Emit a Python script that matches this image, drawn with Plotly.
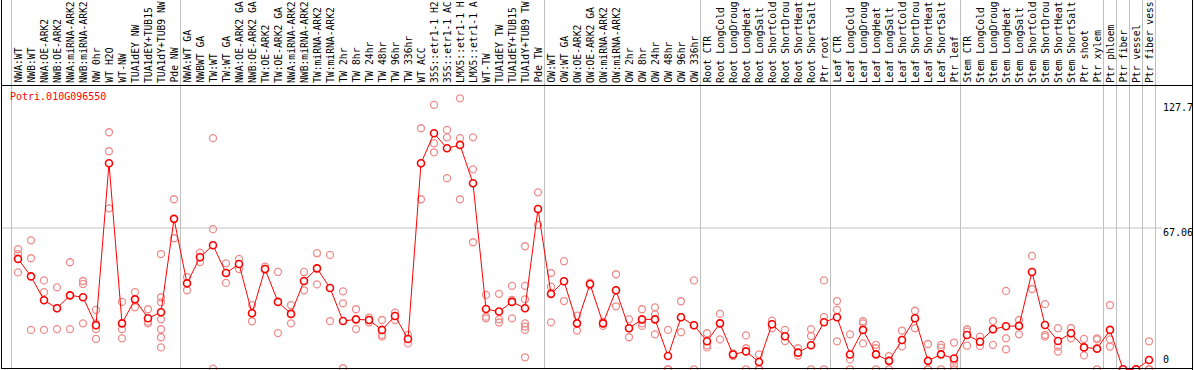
import plotly.graph_objects as go

W, H = 1194, 370

labels = ["NWA:WT", "NWB:WT", "NWA:OE-ARK2", "NWB:OE-ARK2", "NWA:miRNA-ARK2", "NWB:miRNA-ARK2",
          "NW 0hr", "WT H2O", "WT-NW", "TUA1dEY NW", "TUA1dEY+TUB15", "TUA1dY+TUB9 NW", "Pde NW",
          "NWA:WT GA", "NWBWT GA", "TW:WT", "TW:WT GA", "NWA:OE-ARK2 GA", "NWB:OE-ARK2 GA",
          "TW:OE-ARK2", "TW:OE-ARK2 GA", "NWA:miRNA-ARK2", "NWB:miRNA-ARK2", "TW:miRNA-ARK2",
          "TW:miRNA-ARK2", "TW 2hr", "TW 8hr", "TW 24hr", "TW 48hr", "TW 96hr", "TW 336hr",
          "WT ACC", "35S::etr1-1 H2", "35S::etr1-1 AC", "LMX5::etr1-1 H", "LMX5::etr1-1 A",
          "WT-TW", "TUA1dEY TW", "TUA1dEY+TUB15", "TUA1dY+TUB9 TW", "Pde TW",
          "OW:WT", "OW:WT GA", "OW:OE-ARK2", "OW:OE-ARK2 GA", "OW:miRNA-ARK2", "OW:miRNA-ARK2",
          "OW 2hr", "OW 8hr", "OW 24hr", "OW 48hr", "OW 96hr", "OW 336hr",
          "Root CTR", "Root LongCold", "Root LongDroug", "Root LongHeat", "Root LongSalt",
          "Root ShortCold", "Root ShortDrou", "Root ShortHeat", "Root ShortSalt", "Ptr root",
          "Leaf CTR", "Leaf LongCold", "Leaf LongDroug", "Leaf LongHeat", "Leaf LongSalt",
          "Leaf ShortCold", "Leaf ShortDrou", "Leaf ShortHeat", "Leaf ShortSalt", "Ptr leaf",
          "Stem CTR", "Stem LongCold", "Stem LongDroug", "Stem LongHeat", "Stem LongSalt",
          "Stem ShortCold", "Stem ShortDrou", "Stem ShortHeat", "Stem ShortSalt", "Ptr shoot",
          "Ptr xylem", "Ptr phloem", "Ptr fiber", "Ptr vessel", "Ptr fiber vess"]

means = [52.4, 44.1, 32.8, 29.0, 35.1, 34.2, 20.9, 97.8, 21.8, 33.2, 24.2, 27.1, 71.4,
         40.8, 53.2, 58.9, 45.7, 50.0, 26.6, 47.6, 32.0, 26.3, 41.9, 47.9, 38.6, 22.9, 23.7,
         23.4, 18.7, 25.3, 14.4, 97.8, 112.0, 104.9, 106.5, 88.3, 28.6, 27.4, 32.0, 29.0, 76.1,
         35.8, 41.8, 21.8, 40.5, 21.8, 37.5, 19.5, 23.7, 23.7, 6.3, 24.7, 20.9,
         13.3, 21.8, 7.0, 8.5, 3.5, 21.4, 15.7, 7.9, 11.4, 22.3,
         24.7, 7.0, 18.7, 7.1, 4.0, 13.9, 24.2, 4.0, 7.1, 5.1,
         16.3, 13.1, 19.0, 20.4, 20.6, 46.2, 21.0, 13.4, 17.1, 10.4, 9.8,
         18.7, 0.0, 0.0, 4.4]

replicates = [
    [57.0, 54.7, 46.0], [61.2, 52.7, 18.7], [42.2, 36.6, 18.7], [38.9, 29.0, 19.1],
    [50.8, 35.1, 19.1], [41.9, 40.5, 21.8], [28.2, 21.8, 19.1, 14.4], [112.5, 103.5, 76.4],
    [32.0, 19.1, 14.7], [36.6, 33.2, 29.4], [28.5, 22.6, 21.8],
    [54.7, 34.2, 31.8, 23.7, 19.0, 15.2, 10.4], [80.7, 71.4, 62.2],
    [43.7, 40.8, 37.5], [55.4, 53.2, 50.9], [109.7, 66.5, 0.3], [50.3, 45.7, 41.0],
    [52.4, 50.0, 47.6], [30.5, 26.6, 22.8], [48.7, 47.6, 47.2], [46.2, 32.0, 17.2],
    [30.5, 26.3, 21.8], [46.2, 41.9, 37.5], [55.1, 47.9, 40.3], [54.3, 38.6, 22.9],
    [37.0, 31.3, 0.5], [28.5, 23.7, 19.1], [24.5, 23.4, 22.3], [23.4, 16.3, 15.5],
    [26.9, 25.3, 23.4], [16.3, 14.4, 12.3], [114.4, 97.8, 80.7], [125.5, 107.3, 103.0],
    [113.6, 110.1, 90.7], [128.6, 109.7, 80.7], [110.1, 94.9, 60.3], [35.3, 25.0, 24.2],
    [35.8, 23.7, 22.2], [39.6, 32.9, 24.2], [58.4, 39.6, 33.2, 21.8, 20.3, 18.7, 5.7],
    [84.0, 76.1, 68.5],
    [45.7, 39.2, 22.3], [51.3, 41.8, 32.4], [25.5, 21.8, 18.4], [41.1, 40.5, 39.9],
    [22.6, 21.8, 20.6], [45.1, 37.5, 29.9], [23.7, 19.5, 15.2], [28.5, 21.8, 20.6],
    [29.4, 26.1, 16.6], [18.7, 0.0, 0.0], [32.3, 24.7, 17.6], [42.2, 20.9, 0.0],
    [17.1, 11.4, 10.4], [26.3, 21.8, 14.2], [7.6, 7.0, 6.3], [16.1, 10.0, 0.0],
    [7.1, 0.3, 0.0], [23.1, 21.4, 19.5], [18.7, 15.7, 13.4], [10.0, 7.9, 6.5],
    [19.1, 15.8, 0.0], [42.2, 24.8, 0.0],
    [32.4, 28.2, 13.3], [16.6, 4.7, 0.0], [22.8, 21.8, 12.3], [11.6, 10.0, 0.0],
    [6.3, 4.0, 0.0], [18.4, 13.9, 10.9], [27.8, 24.2, 19.5], [12.0, 0.0, 0.0],
    [11.6, 10.3, 0.0], [12.7, 4.1, 2.1, 0.0],
    [19.0, 17.9, 11.2], [15.5, 13.1, 11.1], [22.9, 19.0, 11.6], [37.2, 14.7, 9.5],
    [23.4, 20.6, 16.6], [53.8, 46.2, 38.1], [30.9, 16.3, 15.5], [19.5, 10.8, 8.4],
    [19.6, 17.1, 14.7], [14.4, 10.4, 6.6], [14.7, 14.2, 0.0],
    [30.5, 14.2, 10.8], [0.0, 0.0, 0.0], [0.0, 0.0, 0.0], [13.3, 0.0, 0.0],
]

group_ends = [0, 13, 41, 53, 63, 73, 84, 85, 86, 87, 88]
tick_vals = [127.7, 67.06, 0]
tick_text = ["127.7", "67.06", "0"]
series_name = "Potri.010G096550"

xs = list(range(1, len(labels) + 1))
rx, ry = [], []
for i, reps in zip(xs, replicates):
    for v in reps:
        rx.append(i)
        ry.append(v)

FONT = "DejaVu Sans Mono"

fig = go.Figure()
fig.add_trace(go.Scatter(x=rx, y=ry, mode="markers",
                         marker=dict(symbol="circle-open", size=7, color="rgb(238,140,140)",
                                     line=dict(width=1.3, color="rgb(238,140,140)")),
                         hoverinfo="skip", showlegend=False))
fig.add_trace(go.Scatter(x=xs, y=means, mode="lines+markers",
                         line=dict(color="#ff0000", width=1),
                         marker=dict(symbol="circle", size=7, color="white",
                                     line=dict(width=1.6, color="#ff0000")),
                         showlegend=False))


def px(xp):
    return xp / W


def py(yp):
    return 1 - yp / H


# x: column i centre at pixel 5 + 13*i ; y: value 0 at pixel 369.3, 2.107 px per unit
x_range = [(0 - 5) / 13, (W - 5) / 13]
y_range = [(369.3 - H) / 2.107, 369.3 / 2.107]

shapes = []
for g in group_ends:
    shapes.append(dict(type="line", xref="x", yref="paper", x0=g + 0.5, x1=g + 0.5,
                       y0=py(368), y1=1, line=dict(color="#c0c0c0", width=1), layer="below"))
shapes.append(dict(type="line", xref="paper", yref="y", x0=px(1), x1=px(1162),
                   y0=tick_vals[1], y1=tick_vals[1], line=dict(color="#c0c0c0", width=1), layer="below"))
frame = dict(color="black", width=1)
shapes += [
    dict(type="line", xref="paper", yref="paper", x0=px(1.5), x1=px(1.5), y0=py(368.5), y1=1, line=frame),
    dict(type="line", xref="paper", yref="paper", x0=px(1), x1=px(1193), y0=py(85.5), y1=py(85.5), line=frame),
    dict(type="line", xref="paper", yref="paper", x0=px(1), x1=px(1193), y0=py(368.5), y1=py(368.5), line=frame),
    dict(type="line", xref="paper", yref="paper", x0=px(1192.5), x1=px(1192.5), y0=0, y1=1, line=frame),
]

annotations = []
for i, lab in zip(xs, labels):
    annotations.append(dict(x=i, xref="x", y=py(84), yref="paper", text=lab, textangle=-90,
                            xanchor="center", yanchor="bottom", showarrow=False, borderpad=0,
                            font=dict(family=FONT, size=9.7, color="black")))
annotations.append(dict(x=px(8), xref="paper", y=py(89), yref="paper", text=series_name,
                        xanchor="left", yanchor="top", showarrow=False,
                        font=dict(family=FONT, size=10, color="#ff0000")))
shifts = [0, 3, 2]
anchors = ["top", "top", "bottom"]
for v, t, s, a in zip(tick_vals, tick_text, shifts, anchors):
    annotations.append(dict(x=px(1161), xref="paper", y=v, yref="y", text=t, yshift=s,
                            xanchor="left", yanchor=a, showarrow=False,
                            font=dict(family=FONT, size=10, color="black")))

fig.update_layout(width=W, height=H, margin=dict(l=0, r=0, t=0, b=0),
                  paper_bgcolor="white", plot_bgcolor="white",
                  xaxis=dict(range=x_range, showgrid=False, zeroline=False, showticklabels=False,
                             fixedrange=True),
                  yaxis=dict(range=y_range, showgrid=False, zeroline=False, showticklabels=False,
                             fixedrange=True),
                  shapes=shapes, annotations=annotations, showlegend=False)

fig.write_html("out.html", config={"displayModeBar": False},
               post_script="document.body.style.margin='0';document.body.style.padding='0';"
                           "document.body.style.overflow='hidden';")
